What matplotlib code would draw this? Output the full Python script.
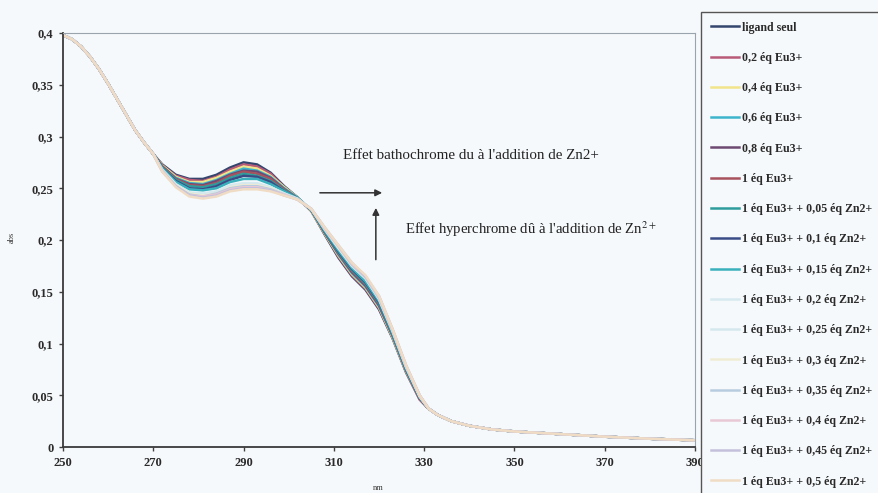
import numpy as np
import matplotlib
matplotlib.use("Agg")
import matplotlib.pyplot as plt

plt.rcParams["font.family"] = ["Liberation Serif", "DejaVu Serif"]
plt.rcParams["mathtext.fontset"] = "stix"

# wavelengths (nm) where all spectra overlap
wl_head = [250, 252, 254, 256, 258, 260, 262, 264, 266, 268, 270]
abs_head = [0.398, 0.394, 0.387, 0.377, 0.365, 0.351, 0.336, 0.321, 0.306, 0.294, 0.283]

# region where the titration changes the spectra
wl_mid = [272, 275, 278, 281, 284, 287, 290, 293, 296, 299,
          302, 305, 308, 311, 314, 317, 320, 323, 326, 329]
abs_mid = [
    [.273, .263, .259, .259, .263, .270, .275, .273, .265, .252, .241, .228, .205, .183, .165, .152, .133, .105, .072, .046],
    [.272, .262, .258, .257, .261, .268, .273, .271, .264, .251, .241, .228, .206, .184, .166, .153, .134, .106, .073, .046],
    [.272, .261, .256, .256, .260, .266, .271, .269, .262, .251, .241, .228, .206, .185, .167, .154, .135, .106, .073, .047],
    [.271, .260, .255, .254, .258, .264, .269, .267, .261, .250, .241, .229, .207, .186, .168, .155, .136, .107, .074, .047],
    [.271, .259, .254, .253, .257, .263, .267, .266, .260, .249, .240, .229, .207, .187, .169, .156, .137, .108, .074, .047],
    [.271, .259, .253, .252, .255, .262, .266, .264, .259, .249, .240, .229, .208, .187, .170, .157, .138, .108, .075, .047],
    [.270, .258, .252, .251, .254, .260, .264, .262, .257, .248, .240, .229, .208, .188, .171, .158, .139, .109, .075, .048],
    [.269, .257, .250, .249, .252, .258, .262, .261, .256, .247, .240, .229, .209, .189, .172, .159, .140, .110, .076, .048],
    [.269, .256, .249, .248, .250, .256, .259, .259, .254, .247, .240, .229, .209, .190, .173, .160, .141, .110, .076, .048],
    [.268, .254, .246, .245, .247, .253, .255, .255, .251, .245, .240, .230, .210, .192, .175, .163, .143, .112, .077, .049],
    [.267, .253, .245, .244, .246, .252, .254, .254, .251, .245, .239, .230, .211, .193, .175, .163, .143, .112, .078, .049],
    [.267, .253, .245, .243, .245, .251, .253, .253, .250, .244, .239, .230, .211, .193, .176, .164, .144, .113, .078, .049],
    [.267, .252, .244, .242, .245, .250, .252, .252, .249, .244, .239, .230, .211, .194, .176, .164, .144, .113, .078, .050],
    [.267, .252, .243, .242, .244, .249, .251, .251, .248, .244, .239, .230, .211, .194, .177, .165, .145, .113, .078, .050],
    [.266, .252, .243, .241, .243, .248, .250, .250, .248, .243, .239, .230, .212, .195, .178, .165, .146, .114, .079, .050],
    [.266, .251, .242, .240, .242, .247, .249, .249, .247, .243, .239, .230, .212, .195, .178, .166, .146, .114, .079, .050],
]

# long-wavelength tail, common to all spectra
wl_tail = [331, 333, 336, 340, 345, 350, 360, 370, 380, 390]
abs_tail = [0.037, 0.031, 0.025, 0.0205, 0.017, 0.015, 0.0125, 0.010, 0.008, 0.0065]

labels = [
    "ligand seul",
    "0,2 éq Eu3+",
    "0,4 éq Eu3+",
    "0,6 éq Eu3+",
    "0,8 éq Eu3+",
    "1 éq Eu3+",
    "1 éq Eu3+ + 0,05 éq Zn2+",
    "1 éq Eu3+ + 0,1 éq Zn2+",
    "1 éq Eu3+ + 0,15 éq Zn2+",
    "1 éq Eu3+ + 0,2 éq Zn2+",
    "1 éq Eu3+ + 0,25 éq Zn2+",
    "1 éq Eu3+ + 0,3 éq Zn2+",
    "1 éq Eu3+ + 0,35 éq Zn2+",
    "1 éq Eu3+ + 0,4 éq Zn2+",
    "1 éq Eu3+ + 0,45 éq Zn2+",
    "1 éq Eu3+ + 0,5 éq Zn2+",
]
colors = ["#34466e", "#b85a78", "#f2e48a", "#3cb4cc", "#6e4a72", "#a8525e",
          "#2e9c9c", "#3a4c86", "#3ab0bc", "#d6eaf0", "#d4e8ee", "#f0ecd4",
          "#b8cce0", "#e8c8d4", "#c4c0dc", "#f0dcc4"]

bg = "#f6f9fb"
fig = plt.figure(figsize=(8.79, 4.93), dpi=100, facecolor=bg)
ax = fig.add_axes([63 / 879, 46 / 493, 632 / 879, 414 / 493], facecolor=bg)

wl = wl_head + wl_mid + wl_tail
for mid, lab, col in zip(abs_mid, labels, colors):
    ax.plot(wl, abs_head + mid + abs_tail, color=col, lw=1.8, label=lab,
            solid_joinstyle="round")

ax.set_xlim(250, 390)
ax.set_ylim(0, 0.4)
ax.set_xticks(range(250, 391, 20))
yt = [0, 0.05, 0.1, 0.15, 0.2, 0.25, 0.3, 0.35, 0.4]
ax.set_yticks(yt)
ax.set_yticklabels([("%g" % v).replace(".", ",") for v in yt])
ax.tick_params(direction="out", length=3, width=1, color="#404040",
               labelsize=9, pad=4)
for t in ax.get_xticklabels() + ax.get_yticklabels():
    t.set_fontweight("bold")
    t.set_color("#2a2a2a")
for s in ("left", "bottom"):
    ax.spines[s].set_color("#3a3a3a")
    ax.spines[s].set_linewidth(1.3)
for s in ("top", "right"):
    ax.spines[s].set_color("#9aa4ac")
    ax.spines[s].set_linewidth(0.8)

fig.text(12 / 879, 1 - 237 / 493, "abs", rotation=90, fontsize=6,
         ha="center", va="center", color="#333333")
fig.text(378 / 879, 1 - 488 / 493, "nm", fontsize=6,
         ha="center", va="center", color="#333333")

# annotations
ax.text(312.0, 0.282, "Effet bathochrome du à l'addition de Zn2+",
        fontsize=10.8, va="center", color="#222222")
ax.text(325.8, 0.210, "Effet hyperchrome dû à l'addition de Zn$^{2+}$",
        fontsize=10.6, va="center", color="#222222")
arrow = dict(arrowstyle="-|>", color="#333333", lw=1.1, mutation_scale=10,
             shrinkA=0, shrinkB=0)
ax.annotate("", xy=(320.7, 0.2456), xytext=(306.9, 0.2456), arrowprops=arrow)
ax.annotate("", xy=(319.3, 0.231), xytext=(319.3, 0.181), arrowprops=arrow)

leg = fig.legend(loc="upper left", bbox_to_anchor=(701 / 879, 1 - 12 / 493),
                 frameon=True, fancybox=False, framealpha=1, facecolor=bg,
                 edgecolor="#555555", fontsize=8.6, labelspacing=1.53,
                 handlelength=2.4, handletextpad=0.2, borderpad=0.8,
                 borderaxespad=0)
leg.set_zorder(10)
leg.get_frame().set_linewidth(1.0)
for t in leg.get_texts():
    t.set_fontweight("bold")
    t.set_color("#2a2a2a")

fig.savefig("out.png", dpi=100, facecolor=bg)
